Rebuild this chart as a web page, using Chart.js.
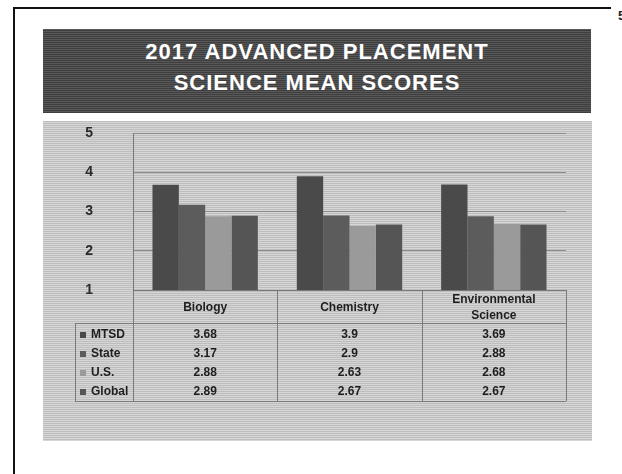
<!DOCTYPE html>
<html>
<head>
<meta charset="utf-8">
<script src="https://cdn.jsdelivr.net/npm/chart.js@4"></script>
<style>
  html, body { margin: 0; padding: 0; background: #fff; }
  body { width: 622px; height: 474px; position: relative; overflow: hidden; font-family: 'Liberation Sans', Arial, sans-serif; }
  .frame-top { position: absolute; left: 13px; top: 7px; width: 598px; height: 2px; background: #111; }
  .frame-left { position: absolute; left: 13px; top: 7px; width: 2px; height: 467px; background: #111; }
  .pageno { position: absolute; left: 618px; top: 8px; font-size: 13px; font-weight: bold; color: #222; }
  .banner {
    position: absolute; left: 43px; top: 29px; width: 548px; height: 84px;
    background: repeating-linear-gradient(0deg, #3e3e3e 0 1px, #585858 1px 2px);
    color: #fff; text-align: center; font-weight: bold; font-size: 22px;
    letter-spacing: 1px; line-height: 31px; padding-top: 7px; box-sizing: border-box;
  }
  .chart-bg {
    position: absolute; left: 43px; top: 121px; width: 549px; height: 320px;
    background: repeating-linear-gradient(0deg, #d6d6d6 0 1px, #bdbdbd 1px 2px);
  }
  #chart { position: absolute; left: 0; top: 0; }
</style>
</head>
<body>
<div class="frame-top"></div>
<div class="frame-left"></div>
<div class="pageno">5</div>
<div class="banner">2017 ADVANCED PLACEMENT<br>SCIENCE MEAN SCORES</div>
<div class="chart-bg"><canvas id="chart" width="549" height="320"></canvas></div>

<script>
// Categories and series
const CATEGORIES = [['Biology'], ['Chemistry'], ['Environmental', 'Science']];
const SERIES_NAMES = ['MTSD', 'State', 'U.S.', 'Global'];
const MTSD   = [3.68, 3.9, 3.69];
const STATE  = [3.17, 2.9, 2.88];
const US     = [2.88, 2.63, 2.68];
const GLOBAL = [2.89, 2.67, 2.67];
const Y_TICKS = [1, 2, 3, 4, 5];

const SERIES_COLORS = ['#4a4a4a', '#5c5c5c', '#9a9a9a', '#555555'];
const SERIES_DATA = [MTSD, STATE, US, GLOBAL];

// Data table under the plot, like Excel's "show data table"
const dataTable = {
  id: 'dataTable',
  afterDraw(chart) {
    const { ctx, chartArea } = chart;
    const x = chart.scales.x;
    const left = chartArea.left, right = chartArea.right, top = chartArea.bottom;
    const keyLeft = left - 58;
    const headBottom = top + 33;
    const rowY = [top + 45, top + 64, top + 83, top + 102];
    const bottom = top + 111;
    const n = CATEGORIES.length;
    const step = (right - left) / n;

    ctx.save();
    ctx.strokeStyle = '#7a7a7a';
    ctx.lineWidth = 1;
    ctx.beginPath();
    // outline & header line
    ctx.moveTo(left, top + 0.5); ctx.lineTo(right, top + 0.5);
    ctx.moveTo(keyLeft, headBottom + 0.5); ctx.lineTo(right, headBottom + 0.5);
    ctx.moveTo(keyLeft, bottom + 0.5); ctx.lineTo(right, bottom + 0.5);
    ctx.moveTo(keyLeft + 0.5, headBottom); ctx.lineTo(keyLeft + 0.5, bottom);
    ctx.moveTo(left + 0.5, top); ctx.lineTo(left + 0.5, bottom);
    for (let i = 1; i <= n; i++) {
      const xx = Math.round(left + step * i) + 0.5;
      ctx.moveTo(xx, top); ctx.lineTo(xx, bottom);
    }
    ctx.stroke();

    ctx.fillStyle = '#1e1e1e';
    ctx.textAlign = 'center';
    ctx.textBaseline = 'middle';
    ctx.font = 'bold 12px "Liberation Sans", Arial, sans-serif';
    CATEGORIES.forEach((lines, i) => {
      const cx = x.getPixelForValue(i);
      const y0 = top + 18 - (lines.length - 1) * 8;
      lines.forEach((t, j) => ctx.fillText(t, cx, y0 + j * 16));
    });

    SERIES_NAMES.forEach((name, r) => {
      ctx.fillStyle = SERIES_COLORS[r];
      ctx.fillRect(keyLeft + 5, rowY[r] - 3, 6, 6);
      ctx.fillStyle = '#1e1e1e';
      ctx.textAlign = 'left';
      ctx.fillText(name, keyLeft + 16, rowY[r]);
      ctx.textAlign = 'center';
      SERIES_DATA[r].forEach((v, i) => {
        ctx.fillText(String(v), x.getPixelForValue(i), rowY[r]);
      });
    });
    ctx.restore();
  }
};

new Chart(document.getElementById('chart'), {
  type: 'bar',
  data: {
    labels: CATEGORIES.map(c => c.join(' ')),
    datasets: SERIES_NAMES.map((name, i) => ({
      label: name,
      data: SERIES_DATA[i],
      backgroundColor: SERIES_COLORS[i],
      borderWidth: 0,
      categoryPercentage: 0.73,
      barPercentage: 1.0,
    }))
  },
  options: {
    responsive: false,
    animation: false,
    layout: { padding: { top: 12, right: 26, bottom: 151, left: 0 } },
    plugins: { legend: { display: false }, tooltip: { enabled: false }, title: { display: false } },
    scales: {
      x: { display: false },
      y: {
        min: 1, max: 5,
        // fixed width; drop the tick padding that v4 adds above/below the axis
        afterFit: s => { s.width = 90; s.paddingTop = 8; s.paddingBottom = 8; },
        afterBuildTicks: s => { s.ticks = Y_TICKS.map(v => ({ value: v })); },
        grid: { color: '#8c8c8c', drawTicks: false },
        border: { color: '#777777' },
        ticks: {
          padding: 40,
          color: '#2a2a2a',
          font: { family: "'Liberation Sans', Arial, sans-serif", size: 14, weight: 'bold' }
        }
      }
    }
  },
  plugins: [dataTable]
});
</script>
</body>
</html>
